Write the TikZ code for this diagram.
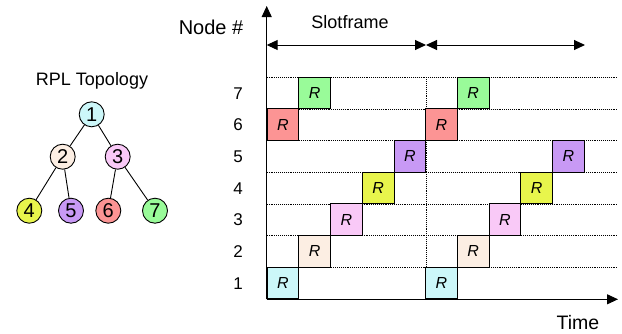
\documentclass[tikz,border=0pt]{standalone}
\usepackage{fontspec}
\setmainfont{Liberation Sans}
\usetikzlibrary{arrows.meta}
\definecolor{cA}{HTML}{CCF7F9}
\definecolor{cB}{HTML}{FCEEE3}
\definecolor{cC}{HTML}{F9C9F7}
\definecolor{cD}{HTML}{E8F54C}
\definecolor{cE}{HTML}{C899F5}
\definecolor{cF}{HTML}{FC9494}
\definecolor{cG}{HTML}{99FB99}
\tikzset{
  cell/.style={draw=black, line width=0.9pt, minimum width=31.7pt, minimum height=31.7pt, inner sep=0pt, font=\fontsize{16}{16}\selectfont\itshape, anchor=south west},
  tnode/.style={circle, draw=black, line width=0.9pt, minimum size=25pt, inner sep=0pt, font=\fontsize{20}{20}\selectfont},
  lbl/.style={font=\fontsize{17}{17}\selectfont},
  grid/.style={densely dotted, line width=0.9pt},
  axis/.style={line width=1pt, -{Triangle[length=11pt,width=10pt]}},
  span/.style={line width=1pt, {Triangle[length=11pt,width=10pt]}-{Triangle[length=11pt,width=10pt]}},
  edge/.style={line width=0.9pt}
}
\begin{document}
\begin{tikzpicture}[x=1pt,y=-1pt]
\useasboundingbox (0,0) rectangle (622,333);
\def\cs{31.7}
% grid lines
\foreach \r in {1,...,7} {
  \draw[grid] (266.7,{299.3-\r*\cs}) -- (617,{299.3-\r*\cs});
}
\draw[grid] (426,77.4) -- (426,299.3);
% cells: node i at column
\foreach \n/\col/\c in {1/0/cA,2/1/cB,3/2/cC,4/3/cD,5/4/cE,6/0/cF,7/1/cG} {
  \node[cell, fill=\c] (a\n) at ({266.7+\col*\cs},{299.3-(\n-1)*\cs}) {R};
  \node[cell, fill=\c] (b\n) at ({266.7+(\col+5)*\cs},{299.3-(\n-1)*\cs}) {R};
  \node[lbl] (r\n) at (238,{299.3-(\n-0.5)*\cs}) {\n};
}
% axes
\coordinate (o) at (266.7,299.3);
\coordinate (ytop) at (266.7,6);
\coordinate (xend) at (618,299.3);
\draw[axis] (o) -- (ytop);
\draw[axis] (o) -- (xend);
% slotframe arrows
\coordinate (s0) at (266.7,45);
\coordinate (s1) at (426,45);
\coordinate (s2) at (585,45);
\draw[span] (s0) -- (s1);
\draw[span] (s1) -- (s2);
\node[font=\fontsize{18}{18}\selectfont] (sf) at (350,22) {Slotframe};
\node[font=\fontsize{20}{20}\selectfont] (nh) at (211,27) {Node \#};
\node[font=\fontsize{19.5}{19.5}\selectfont] (tm) at (578,323) {Time};
% tree
\node[font=\fontsize{18}{18}\selectfont] (title) at (92,81) {RPL Topology};
\node[tnode, fill=cA] (t1) at (91.7,114.3) {1};
\node[tnode, fill=cB] (t2) at (62.7,156.7) {2};
\node[tnode, fill=cC] (t3) at (117.7,156.7) {3};
\node[tnode, fill=cD] (t4) at (29.3,210.7) {4};
\node[tnode, fill=cE] (t5) at (71,210.7) {5};
\node[tnode, fill=cF] (t6) at (108.3,210.7) {6};
\node[tnode, fill=cG] (t7) at (155,210.7) {7};
\draw[edge] (t1) -- (t2);
\draw[edge] (t1) -- (t3);
\draw[edge] (t2) -- (t4);
\draw[edge] (t2) -- (t5);
\draw[edge] (t3) -- (t6);
\draw[edge] (t3) -- (t7);
\end{tikzpicture}
\end{document}
